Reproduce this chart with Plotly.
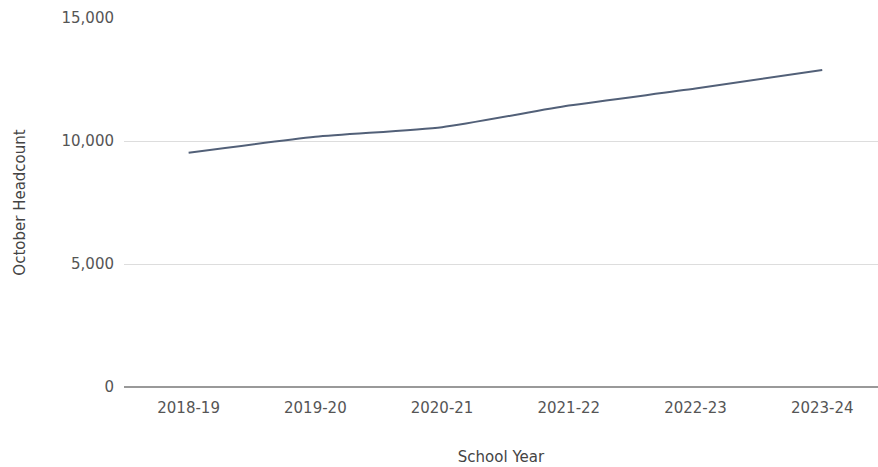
import plotly.graph_objects as go

school_years = ["2018-19", "2019-20", "2020-21", "2021-22", "2022-23", "2023-24"]
headcount = [9520, 10170, 10560, 11440, 12130, 12890]

FONT = "DejaVu Sans, Verdana, sans-serif"

fig = go.Figure()
fig.add_trace(go.Scatter(
    x=school_years,
    y=headcount,
    mode="lines",
    line=dict(color="#526078", width=2, shape="spline", smoothing=0.6),
    hoverinfo="x+y",
))

fig.update_layout(
    width=878,
    height=467,
    margin=dict(l=124, r=0, t=18, b=80),
    paper_bgcolor="white",
    plot_bgcolor="white",
    showlegend=False,
    font=dict(family=FONT, size=15, color="#555555"),
    xaxis=dict(
        title=dict(text="School Year", font=dict(size=15, color="#444444"), standoff=35),
        range=[-0.51, 5.44],
        showgrid=False,
        zeroline=False,
        showline=False,
        ticks="",
        ticklabelstandoff=10,
        tickfont=dict(size=15, color="#555555"),
    ),
    yaxis=dict(
        title=dict(text="October Headcount", font=dict(size=15, color="#444444"), standoff=32),
        range=[0, 15000],
        tickvals=[0, 5000, 10000, 15000],
        tickformat=",",
        showgrid=True,
        gridcolor="#dddddd",
        gridwidth=1,
        zeroline=True,
        zerolinecolor="#999999",
        zerolinewidth=2,
        ticks="",
        ticklabelstandoff=9,
        tickfont=dict(size=15, color="#555555"),
    ),
)

fig.write_html("out.html")
